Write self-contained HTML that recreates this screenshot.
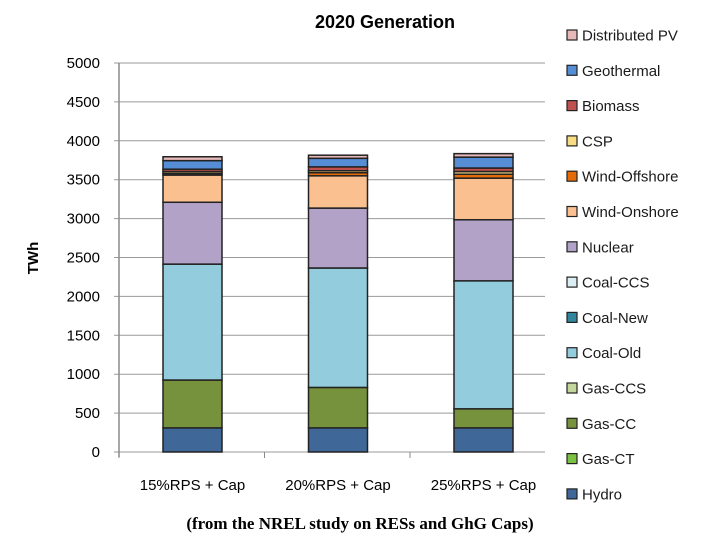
<!DOCTYPE html>
<html><head><meta charset="utf-8"><style>
body{margin:0;background:#fff;width:720px;height:540px;overflow:hidden}
text{font-family:"Liberation Sans",sans-serif}
</style></head><body>
<svg id="chart" width="720" height="540">
<text x="385" y="28" text-anchor="middle" font-size="18" font-weight="bold" fill="#000">2020 Generation</text>
<text transform="translate(38,258) rotate(-90)" text-anchor="middle" font-size="15" font-weight="bold">TWh</text>
<text x="360" y="529" text-anchor="middle" font-size="17" font-weight="bold" style="font-family:'Liberation Serif',serif">(from the NREL study on RESs and GhG Caps)</text>
<g id="grid"></g><g id="bars"></g><g id="axes"></g><g id="legend"></g>
</svg>
<script>
const categories=["15%RPS + Cap","20%RPS + Cap","25%RPS + Cap"];
const seriesNames=["Hydro","Gas-CT","Gas-CC","Gas-CCS","Coal-Old","Coal-New","Coal-CCS","Nuclear","Wind-Onshore","Wind-Offshore","CSP","Biomass","Geothermal","Distributed PV"];
const seriesColors=["#3f6797","#7cc242","#76923c","#c3d69b","#93cddd","#31859c","#daeef3","#b2a2c7","#fac090","#e36c09","#f7dc84","#c0504d","#558ed5","#e6b9b8"];
const hydro=[310,310,310];
const gasCT=[0,0,0];
const gasCC=[615,520,245];
const gasCCS=[0,0,0];
const coalOld=[1490,1535,1645];
const coalNew=[0,0,0];
const coalCCS=[0,0,0];
const nuclear=[795,770,785];
const windOn=[350,415,535];
const windOff=[20,40,50];
const csp=[25,25,35];
const biomass=[30,50,45];
const geothermal=[110,110,140];
const distPV=[50,40,45];
const series=[hydro,gasCT,gasCC,gasCCS,coalOld,coalNew,coalCCS,nuclear,windOn,windOff,csp,biomass,geothermal,distPV];
const yTicks=[0,500,1000,1500,2000,2500,3000,3500,4000,4500,5000];
const NS="http://www.w3.org/2000/svg";
const X0=119,X1=545,Y0=452,Y1=63,YMAX=5000;
const y=v=>Y0-(v/YMAX)*(Y0-Y1);
const band=145.5;
const xc=i=>192.5+band*i;
const BW=59;
function mk(t,a,p){const e=document.createElementNS(NS,t);for(const k in a)e.setAttribute(k,a[k]);p.appendChild(e);return e;}
const grid=document.getElementById('grid'),axes=document.getElementById('axes'),bars=document.getElementById('bars'),leg=document.getElementById('legend');
yTicks.forEach(t=>{
 const l=mk('line',{x1:X0-5,x2:X1,y1:y(t),y2:y(t),stroke:'#9a9a9a','stroke-width':1},grid);
 
 
 const tx=mk('text',{x:100,y:y(t)+5,'text-anchor':'end','font-size':15,fill:'#000'},axes);
 tx.textContent=t;
 
 
});
const ya=mk('line',{x1:X0,x2:X0,y1:Y1,y2:Y0+5,stroke:'#8a8a8a','stroke-width':1.5},axes);


for(let i=0;i<categories.length;i++){
 const tk=mk('line',{x1:X0+band*i,x2:X0+band*i,y1:Y0,y2:Y0+6,stroke:'#8a8a8a','stroke-width':1},axes);
 
 
}
categories.forEach((c,i)=>{
 const tx=mk('text',{x:xc(i),y:490,'text-anchor':'middle','font-size':15},axes);
 tx.textContent=c;
 
 
 let acc=0;
 series.forEach((s,k)=>{
  const v=s[i]; if(!v) return;
  const r=mk('rect',{x:xc(i)-BW/2,y:y(acc+v),width:BW,height:y(acc)-y(acc+v),fill:seriesColors[k],stroke:'#222','stroke-width':1.5},bars);
  
  
  acc+=v;
 });
});
const order=seriesNames.slice().reverse(),ocol=seriesColors.slice().reverse();
order.forEach((n,j)=>{
 const yy=35+j*35.3;
 const r=mk('rect',{x:567,y:yy-5,width:10,height:10,fill:ocol[j],stroke:'#222','stroke-width':1.2},leg);
 
 
 const t=mk('text',{x:582,y:yy+5.5,'font-size':15,fill:'#1a1a1a'},leg);
 t.textContent=n;
 
 
});
</script>
</body></html>
